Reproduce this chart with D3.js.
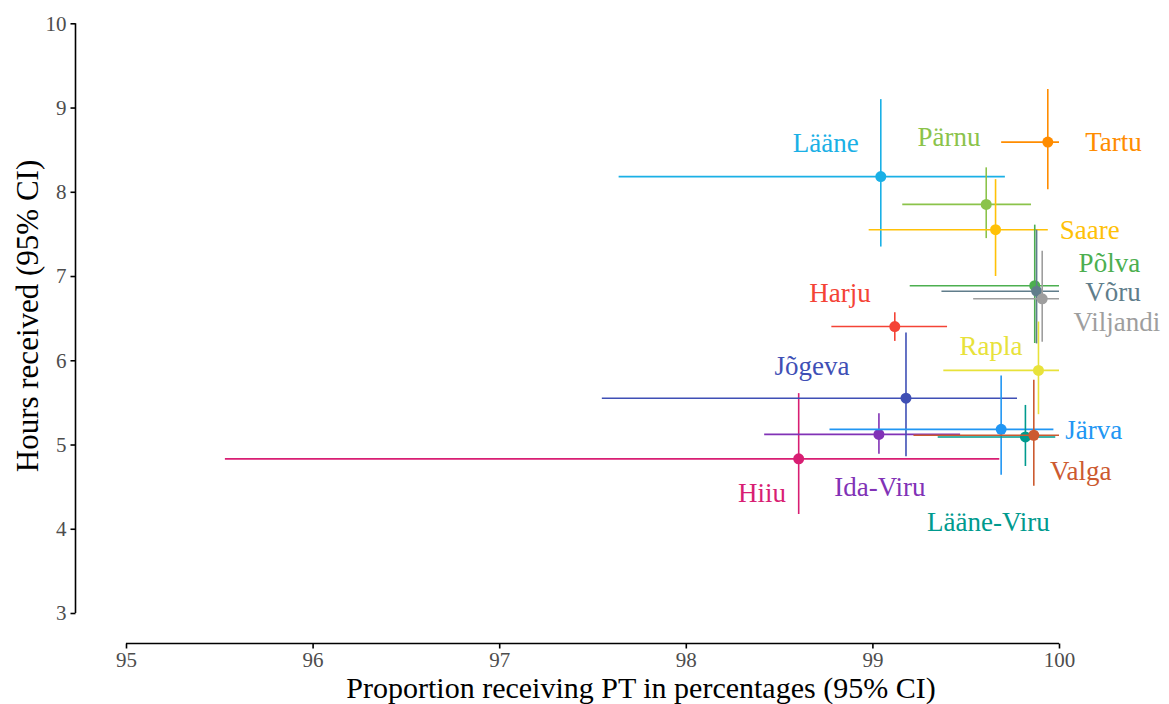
<!DOCTYPE html>
<html>
<head>
  <title>PT by county</title>
  <style type="text/css">
    body { margin: 0; background: #fff; }
    svg { font-family: "Liberation Serif", "Times New Roman", serif; }
    .tick text { fill: #4d4d4d; font-size: 21px; font-family: "Liberation Serif", "Times New Roman", serif; }
  </style>
</head>
<body>
<svg id='vis' width="1169" height="704"></svg>

<script src="https://cdnjs.cloudflare.com/ajax/libs/d3/7.8.5/d3.min.js"></script>
<script type="text/javascript">
  // county estimates
  var counties = ['Hiiu', 'Ida-Viru', 'Jõgeva', 'Lääne', 'Harju', 'Järva', 'Lääne-Viru', 'Valga',
                  'Pärnu', 'Saare', 'Põlva', 'Võru', 'Viljandi', 'Rapla', 'Tartu']
  var pct    = [98.605, 99.035, 99.18, 99.045, 99.12, 99.69, 99.82, 99.865, 99.61, 99.66, 99.87, 99.88, 99.91, 99.89, 99.94]
  var pctLo  = [95.53, 98.42, 97.55, 97.64, 98.78, 98.77, 99.35, 99.22, 99.16, 98.98, 99.20, 99.37, 99.54, 99.38, 99.69]
  var pctHi  = [99.68, 99.47, 99.775, 99.71, 99.40, 99.97, 99.98, 100, 99.85, 99.94, 100, 100, 100, 100, 100]
  var hours   = [4.83, 5.12, 5.55, 8.18, 6.40, 5.18, 5.09, 5.11, 7.85, 7.55, 6.885, 6.82, 6.73, 5.88, 8.59]
  var hoursLo = [4.175, 4.89, 4.86, 7.35, 6.23, 4.64, 4.745, 4.51, 7.45, 7.00, 6.205, 6.20, 6.22, 5.36, 8.03]
  var hoursHi = [5.61, 5.37, 6.33, 9.10, 6.57, 5.82, 5.47, 5.77, 8.29, 8.15, 7.61, 7.55, 7.30, 6.46, 9.22]
  // where each name sits, in data units
  var labelX = [98.408, 99.04, 98.676, 98.75, 98.826, 100.186, 99.622, 100.116, 99.41, 100.165, 100.27, 100.29, 100.31, 99.636, 100.292]
  var labelY = [4.42, 4.50, 5.93, 8.575, 6.795, 5.17, 4.08, 4.69, 8.655, 7.545, 7.16, 6.81, 6.46, 6.17, 8.595]
  var colors = ['#d81e73', '#8132b6', '#3f4fb5', '#1ab0e6', '#f44336', '#2196f3', '#009a8e', '#cc5a30',
                '#8bc34a', '#ffc107', '#4caf50', '#607d8b', '#9e9e9e', '#e8e23a', '#ff8c00']

  var xTicks = [95, 96, 97, 98, 99, 100]
  var yTicks = [3, 4, 5, 6, 7, 8, 9, 10]

  var svg = d3.select('#vis')

  var xScale = d3.scaleLinear().domain([95, 100]).range([126, 1059])
  var yScale = d3.scaleLinear().domain([3, 10]).range([613, 23.3])

  var xAxis = svg.append('g')
    .attr('transform', 'translate(0,643.5)')
    .call(d3.axisBottom(xScale).tickValues(xTicks).tickFormat(d3.format('d')).tickSize(5).tickPadding(4))
  var yAxis = svg.append('g')
    .attr('transform', 'translate(75.5,0)')
    .call(d3.axisLeft(yScale).tickValues(yTicks).tickFormat(d3.format('d')).tickSize(5).tickPadding(4))

  svg.selectAll('.domain').attr('stroke', '#000').attr('stroke-width', 1.6)
  svg.selectAll('.tick line').attr('stroke', '#000').attr('stroke-width', 1.6)
  // axis lines without the outer end hooks
  xAxis.select('.domain').attr('d', 'M' + xScale(95) + ',0H' + xScale(100))
  yAxis.select('.domain').attr('d', 'M0,' + yScale(3) + 'V' + yScale(10))

  svg.append('text')
    .attr('x', 641).attr('y', 698)
    .attr('text-anchor', 'middle')
    .style('font-size', '30px')
    .text('Proportion receiving PT in percentages (95% CI)')

  svg.append('text')
    .attr('transform', 'translate(38,316) rotate(-90)')
    .attr('text-anchor', 'middle')
    .style('font-size', '31px')
    .text('Hours received (95% CI)')

  var rows = counties.map(function(c, i) {
    return { name: c, x: pct[i], xlo: pctLo[i], xhi: pctHi[i],
             y: hours[i], ylo: hoursLo[i], yhi: hoursHi[i],
             lx: labelX[i], ly: labelY[i], col: colors[i] }
  })

  var g = svg.selectAll('g.county')
    .data(rows)
    .enter()
    .append('g')
      .attr('class', 'county')

  g.append('line')
    .attr('x1', function(d) { return xScale(d.xlo) })
    .attr('x2', function(d) { return xScale(d.xhi) })
    .attr('y1', function(d) { return yScale(d.y) })
    .attr('y2', function(d) { return yScale(d.y) })
    .attr('stroke', function(d) { return d.col })
    .attr('stroke-width', 1.6)

  g.append('line')
    .attr('x1', function(d) { return xScale(d.x) })
    .attr('x2', function(d) { return xScale(d.x) })
    .attr('y1', function(d) { return yScale(d.ylo) })
    .attr('y2', function(d) { return yScale(d.yhi) })
    .attr('stroke', function(d) { return d.col })
    .attr('stroke-width', 1.6)

  g.append('circle')
    .attr('cx', function(d) { return xScale(d.x) })
    .attr('cy', function(d) { return yScale(d.y) })
    .attr('r', 5.5)
    .attr('fill', function(d) { return d.col })

  svg.selectAll('text.lab')
    .data(rows)
    .enter()
    .append('text')
      .attr('class', 'lab')
      .attr('x', function(d) { return xScale(d.lx) })
      .attr('y', function(d) { return yScale(d.ly) })
      .attr('text-anchor', 'middle')
      .attr('dominant-baseline', 'central')
      .attr('fill', function(d) { return d.col })
      .style('font-size', '27px')
      .text(function(d) { return d.name })
</script>
</body>
</html>
